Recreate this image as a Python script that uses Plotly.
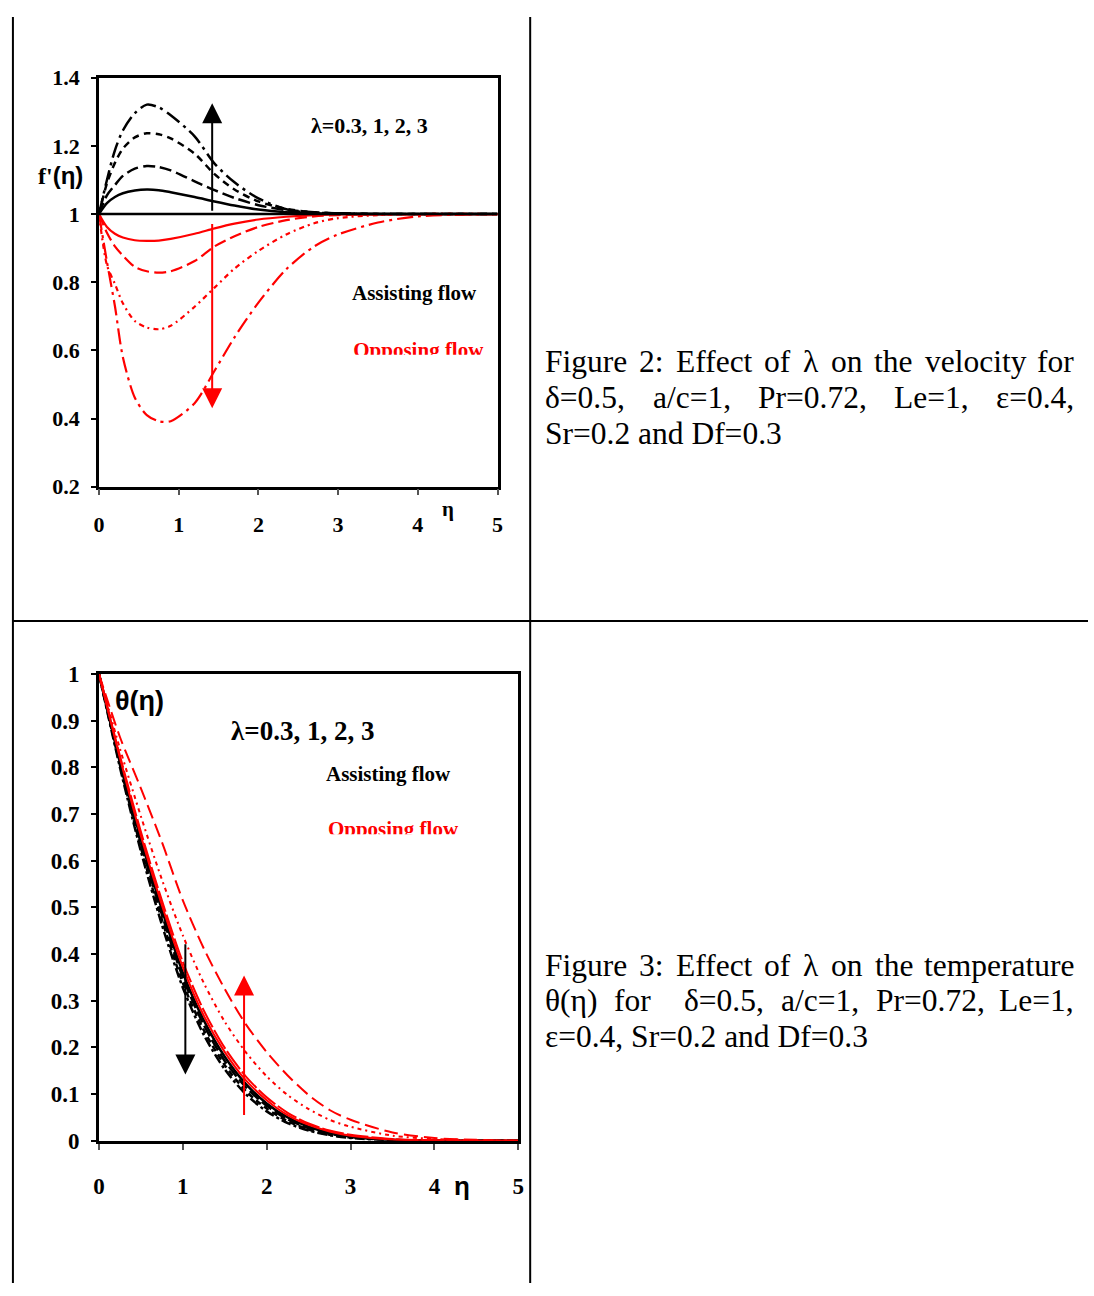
import plotly.graph_objects as go

W, H = 1094, 1296

# ---------------- data: Figure 2 (velocity f'(eta)) ----------------
eta_f = [0, 0.1, 0.2, 0.3, 0.45, 0.6, 0.75, 0.9, 1.2, 1.45, 1.7, 2.0, 2.35, 2.7, 3.0, 3.5, 4.0, 5.0]
f_assist_l03 = [1.0, 1.032, 1.050, 1.061, 1.069, 1.072, 1.070, 1.064, 1.050, 1.037, 1.025, 1.013, 1.005, 1.002, 1.001, 1.0, 1.0, 1.0]
f_assist_l1 = [1.0, 1.055, 1.085, 1.112, 1.133, 1.141, 1.138, 1.128, 1.096, 1.070, 1.047, 1.026, 1.011, 1.004, 1.002, 1.0, 1.0, 1.0]
f_assist_l2 = [1.0, 1.090, 1.150, 1.192, 1.225, 1.237, 1.234, 1.222, 1.177, 1.117, 1.072, 1.037, 1.015, 1.005, 1.002, 1.0, 1.0, 1.0]
f_assist_l3 = [1.0, 1.100, 1.187, 1.245, 1.296, 1.321, 1.313, 1.290, 1.228, 1.148, 1.093, 1.046, 1.014, 1.005, 1.002, 1.0, 1.0, 1.0]
f_oppose_l03 = [1.0, 0.962, 0.942, 0.931, 0.923, 0.921, 0.922, 0.927, 0.942, 0.958, 0.972, 0.984, 0.992, 0.997, 0.999, 1.0, 1.0, 1.0]
f_oppose_l1 = [1.0, 0.945, 0.905, 0.878, 0.845, 0.832, 0.828, 0.832, 0.862, 0.905, 0.935, 0.962, 0.982, 0.993, 0.997, 0.999, 1.0, 1.0]
f_oppose_l2 = [1.0, 0.850, 0.795, 0.738, 0.686, 0.667, 0.662, 0.672, 0.728, 0.784, 0.840, 0.892, 0.940, 0.973, 0.988, 0.997, 1.0, 1.0]
f_oppose_l3 = [1.0, 0.860, 0.730, 0.580, 0.461, 0.410, 0.392, 0.392, 0.445, 0.540, 0.638, 0.740, 0.838, 0.905, 0.940, 0.975, 0.993, 1.0]
f_far_stream = 1.0

# ---------------- data: Figure 3 (temperature theta(eta)) ----------------
eta_t = [0, 0.25, 0.5, 0.75, 1.0, 1.25, 1.5, 1.75, 2.0, 2.25, 2.5, 2.75, 3.0, 3.5, 4.0, 4.5, 5.0]
t_assist_l03 = [1.0, 0.815, 0.645, 0.495, 0.360, 0.258, 0.180, 0.122, 0.080, 0.050, 0.030, 0.017, 0.009, 0.002, 0.0005, 0.0, 0.0]
t_assist_l1 = [1.0, 0.810, 0.637, 0.485, 0.350, 0.248, 0.171, 0.115, 0.075, 0.046, 0.027, 0.015, 0.008, 0.002, 0.0, 0.0, 0.0]
t_assist_l2 = [1.0, 0.805, 0.628, 0.474, 0.338, 0.237, 0.162, 0.107, 0.069, 0.042, 0.024, 0.013, 0.007, 0.0015, 0.0, 0.0, 0.0]
t_assist_l3 = [1.0, 0.800, 0.620, 0.463, 0.328, 0.227, 0.153, 0.100, 0.063, 0.038, 0.022, 0.012, 0.006, 0.001, 0.0, 0.0, 0.0]
t_oppose_l03 = [1.0, 0.820, 0.653, 0.505, 0.372, 0.268, 0.190, 0.130, 0.087, 0.055, 0.034, 0.020, 0.011, 0.003, 0.001, 0.0, 0.0]
t_oppose_l1 = [1.0, 0.825, 0.662, 0.515, 0.383, 0.279, 0.199, 0.138, 0.093, 0.060, 0.037, 0.022, 0.013, 0.004, 0.001, 0.0, 0.0]
t_oppose_l2 = [1.0, 0.840, 0.695, 0.560, 0.440, 0.338, 0.255, 0.190, 0.138, 0.098, 0.068, 0.045, 0.030, 0.011, 0.004, 0.001, 0.0]
t_oppose_l3 = [1.0, 0.865, 0.755, 0.640, 0.515, 0.412, 0.325, 0.250, 0.190, 0.140, 0.098, 0.066, 0.045, 0.018, 0.006, 0.002, 0.0]

# tick labels
x_ticks = [0, 1, 2, 3, 4, 5]
x_ticktext = ["0", "1", "2", "3", "4", "5"]
y1_ticks = [0.2, 0.4, 0.6, 0.8, 1.0, 1.2, 1.4]
y1_ticktext = ["0.2", "0.4", "0.6", "0.8", "1", "1.2", "1.4"]
y2_ticks = [0, 0.1, 0.2, 0.3, 0.4, 0.5, 0.6, 0.7, 0.8, 0.9, 1.0]
y2_ticktext = ["0", "0.1", "0.2", "0.3", "0.4", "0.5", "0.6", "0.7", "0.8", "0.9", "1"]

# arrows (eta position, tail value, head value)
arrow_f_assist = (1.42, 1.005, 1.325)
arrow_f_oppose = (1.42, 0.975, 0.43)
arrow_t_assist = (1.03, 0.424, 0.142)
arrow_t_oppose = (1.73, 0.052, 0.354)

# captions
cap2_lines = [["Figure", "2:", "Effect", "of", "λ", "on", "the", "velocity", "for"],
              ["δ=0.5,", "a/c=1,", "Pr=0.72,", "Le=1,", "ε=0.4,"]]
cap2_last = "Sr=0.2 and Df=0.3"
cap3_lines = [["Figure", "3:", "Effect", "of", "λ", "on", "the", "temperature"],
              ["θ(η)", "for", "δ=0.5,", "a/c=1,", "Pr=0.72,", "Le=1,"]]
cap3_gapweights = [None, [1, 2, 1, 1, 1]]
cap3_last = "ε=0.4, Sr=0.2 and Df=0.3"

# ---------------- helpers (window pixel -> paper fraction) ----------------
def px(x):
    return x / W

def py(y):
    return 1 - y / H

SERIF = "Liberation Serif, Times New Roman, serif"
SANSN = "Liberation Sans Narrow, Liberation Sans, Arial, sans-serif"

fig = go.Figure()

assist_dash = ["solid", "12px,5px", "7px,5px", "16px,5px,3px,5px"]
oppose_dash = ["solid", "12px,5px", "5px,4px,2px,4px", "16px,5px,3px,5px"]

for ys, d in zip([f_assist_l03, f_assist_l1, f_assist_l2, f_assist_l3], assist_dash):
    fig.add_trace(go.Scatter(x=eta_f, y=ys, mode="lines", xaxis="x", yaxis="y",
                             line=dict(color="black", width=2.5, dash=d, shape="spline", smoothing=0.8),
                             showlegend=False, hoverinfo="skip"))
for ys, d in zip([f_oppose_l03, f_oppose_l1, f_oppose_l2, f_oppose_l3], oppose_dash):
    fig.add_trace(go.Scatter(x=eta_f, y=ys, mode="lines", xaxis="x", yaxis="y",
                             line=dict(color="red", width=2.2, dash=d, shape="spline", smoothing=0.8),
                             showlegend=False, hoverinfo="skip"))

t_assist_dash = ["solid", "12px,4px", "6px,4px", "10px,3px,3px,3px"]
t_oppose_dash = ["solid", "22px,3px", "4px,4px,2px,4px", "14px,6px"]
for ys, d in zip([t_assist_l03, t_assist_l1, t_assist_l2, t_assist_l3], t_assist_dash):
    fig.add_trace(go.Scatter(x=eta_t, y=ys, mode="lines", xaxis="x2", yaxis="y2",
                             line=dict(color="black", width=2.5, dash=d, shape="spline", smoothing=0.8),
                             showlegend=False, hoverinfo="skip"))
for ys, d in zip([t_oppose_l03, t_oppose_l1, t_oppose_l2, t_oppose_l3], t_oppose_dash):
    fig.add_trace(go.Scatter(x=eta_t, y=ys, mode="lines", xaxis="x2", yaxis="y2",
                             line=dict(color="red", width=2, dash=d, shape="spline", smoothing=0.8),
                             showlegend=False, hoverinfo="skip"))

# "Opposing flow" as text traces (so they can be clipped by white boxes)
fig.add_trace(go.Scatter(x=[3.19], y=[0.595], mode="text", text=["Opposing flow"], textposition="middle right",
                         xaxis="x", yaxis="y", showlegend=False, hoverinfo="skip",
                         textfont=dict(family=SERIF, size=21, color="red", weight="bold")))
fig.add_trace(go.Scatter(x=[2.73], y=[0.665], mode="text", text=["Opposing flow"], textposition="middle right",
                         xaxis="x2", yaxis="y2", showlegend=False, hoverinfo="skip",
                         textfont=dict(family=SERIF, size=21, color="red", weight="bold")))

fig.add_hline(y=f_far_stream, line=dict(color="black", width=2.5), xref="x", yref="y", layer="above")

tickfont = dict(family=SERIF, size=22, color="black", weight="bold")
axis_common = dict(showline=True, linecolor="black", linewidth=2.5, mirror=True, showgrid=False,
                   zeroline=False, tickfont=tickfont, ticks="outside", tickmode="array")

fig.update_layout(
    width=W, height=H, margin=dict(l=0, r=0, t=0, b=0),
    paper_bgcolor="white", plot_bgcolor="white", showlegend=False,
    xaxis=dict(domain=[px(94), px(497)], range=[0, 5], anchor="y", tickvals=x_ticks, ticktext=x_ticktext,
               ticklen=6, tickcolor="#555", tickwidth=1.5, ticklabelstandoff=10, **axis_common),
    yaxis=dict(domain=[py(484), py(67)], range=[0.2, 1.4], anchor="x", tickvals=y1_ticks, ticktext=y1_ticktext,
               ticklen=5, tickcolor="black", tickwidth=1.5, ticklabelstandoff=7, **axis_common),
    xaxis2=dict(domain=[px(94), px(518)], range=[0, 5], anchor="y2", tickvals=x_ticks, ticktext=x_ticktext,
                ticklen=6, tickcolor="#555", tickwidth=1.5, ticklabelstandoff=17,
                **dict(axis_common, tickfont=dict(tickfont, size=23))),
    yaxis2=dict(domain=[py(1151), py(675)], range=[0, 1], anchor="x2", tickvals=y2_ticks, ticktext=y2_ticktext,
                ticklen=5, tickcolor="black", tickwidth=1.5, ticklabelstandoff=7,
                **dict(axis_common, tickfont=dict(tickfont, size=23))),
)

shapes = []
# table borders
tbl = dict(type="line", xref="paper", yref="paper", line=dict(color="black", width=2))
shapes.append(dict(tbl, x0=px(6), x1=1, y0=py(5), y1=py(5)))
shapes.append(dict(tbl, x0=px(7), x1=px(7), y0=py(5), y1=0))
shapes.append(dict(tbl, x0=px(530), x1=px(530), y0=py(5), y1=0))
shapes.append(dict(tbl, x0=px(7), x1=1, y0=py(621), y1=py(621)))
# clipping boxes hiding lower part of "Opposing flow"
clip = dict(type="rect", xref="paper", yref="paper", fillcolor="white", line=dict(width=0), layer="above")
shapes.append(dict(clip, x0=px(348), x1=px(495), y0=py(364), y1=py(349.5)))
shapes.append(dict(clip, x0=px(322), x1=px(516), y0=py(852), y1=py(838.5)))
fig.update_layout(shapes=shapes)

ann = []
def add_arrow(xa, ya, spec, color):
    x, tail, head = spec
    ann.append(dict(xref=xa, yref=ya, axref=xa, ayref=ya, x=x, y=head, ax=x, ay=tail, text="",
                    showarrow=True, arrowhead=2, arrowsize=2.0, arrowwidth=2, arrowcolor=color, standoff=0))

add_arrow("x", "y", arrow_f_assist, "black")
add_arrow("x", "y", arrow_f_oppose, "red")
add_arrow("x2", "y2", arrow_t_assist, "black")
add_arrow("x2", "y2", arrow_t_oppose, "red")

def txt(x, y, s, size, color="black", family=SERIF, xanchor="center", weight="bold"):
    ann.append(dict(xref="paper", yref="paper", x=px(x), y=py(y), text=s, showarrow=False,
                    xanchor=xanchor, yanchor="middle", borderpad=0, borderwidth=0,
                    font=dict(family=family, size=size, color=color, weight=weight)))

# chart 1 texts
txt(368, 116, "λ=0.3, 1, 2, 3", 22)
txt(350, 287, "Assisting flow", 21, xanchor="left")
txt(55, 167, "f'<span style='font-family:Liberation Sans'>(η)</span>", 24)
txt(447, 507, "η", 21)
# chart 2 texts
txt(135, 703, "θ(η)", 27, family=SANSN)
txt(300, 733, "λ=0.3, 1, 2, 3", 27)
txt(324, 777, "Assisting flow", 21, xanchor="left")
txt(461, 1197, "η", 26, family=SANSN)

# captions (justified)
CW = {'F': 556, 'i': 278, 'g': 500, 'u': 500, 'r': 333, 'e': 444, '2': 500, ':': 278, 'E': 611, 'f': 333,
      'c': 444, 't': 278, 'o': 500, 'λ': 500, 'n': 500, 'h': 500, 'v': 500, 'l': 278, 'y': 500, 'δ': 500,
      '=': 564, '0': 500, '.': 250, '5': 500, ',': 250, 'a': 444, '/': 278, '1': 500, 'P': 556, '7': 500,
      'L': 611, 'ε': 440, '4': 500, 'S': 556, 'D': 722, 'd': 500, '3': 500, 'm': 778, 'p': 500, 'θ': 500,
      '(': 333, ')': 333, 'η': 500}
CAP = 31.5

def tw(s):
    return sum(CW.get(c, 500) for c in s) * CAP / 1000.0

def justified(words, yc, left=545, right=1080, weights=None):
    if weights is None:
        weights = [1] * (len(words) - 1)
    total = sum(tw(w) for w in words)
    unit = (right - left - total) / sum(weights)
    x = left
    for i, w in enumerate(words):
        if i == len(words) - 1:
            txt(right, yc, w, CAP, weight="normal", xanchor="right")
        else:
            txt(x, yc, w, CAP, weight="normal", xanchor="left")
            x += tw(w) + unit * weights[i]

justified(cap2_lines[0], 356)
justified(cap2_lines[1], 393)
txt(545, 430, cap2_last, CAP, weight="normal", xanchor="left")
justified(cap3_lines[0], 972)
justified(cap3_lines[1], 1008, weights=cap3_gapweights[1])
txt(545, 1045, cap3_last, CAP, weight="normal", xanchor="left")

fig.update_layout(annotations=ann)

fig.write_html("out.html", config={"displayModeBar": False},
               post_script="document.body.style.margin='0px';document.documentElement.style.overflow='hidden';")
